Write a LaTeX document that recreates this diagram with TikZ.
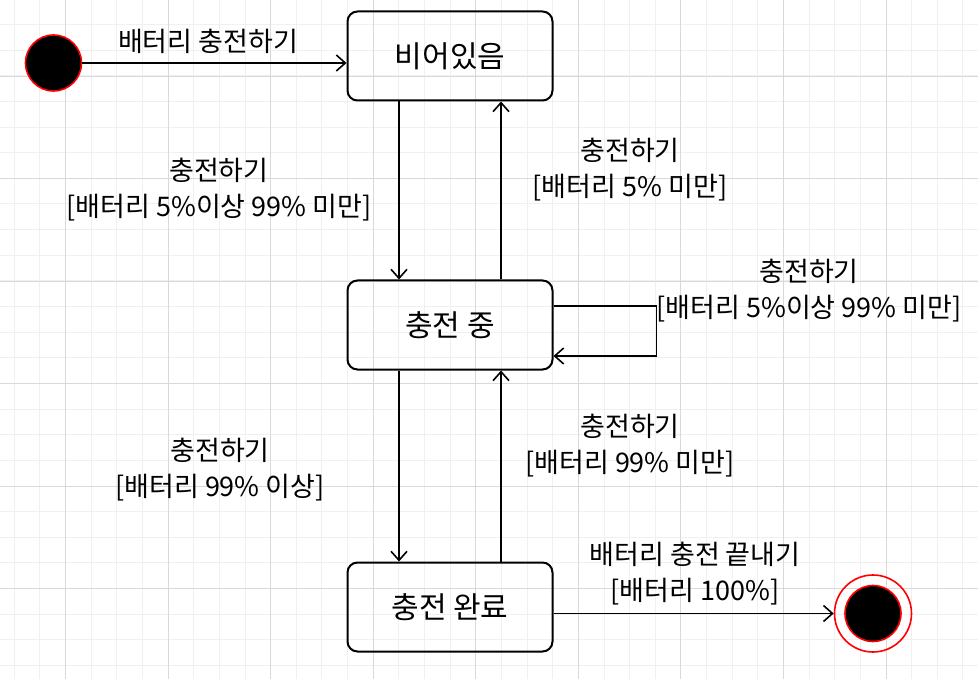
\documentclass[tikz,border=0pt]{standalone}
\usepackage{fontspec}
\newfontfamily\kofont{Noto Sans CJK KR}
\usetikzlibrary{positioning,arrows.meta}

\begin{document}
\begin{tikzpicture}[x=1pt, y=-1pt,
  state/.style={draw, line width=2pt, rounded corners=10pt, minimum width=205pt, minimum height=89pt, font=\kofont\fontsize{30}{34}\selectfont},
  lbl/.style={align=center, inner sep=0pt, font=\kofont\fontsize{27}{36}\selectfont},
  arr/.style={line width=1.6pt, -{Straight Barb[length=9pt, width=16pt, line width=1.6pt]}},
  startdot/.style={circle, draw=red, line width=1.6pt, fill=black, minimum size=56pt, inner sep=0pt},
  enddot/.style={circle, draw=red, line width=1.6pt, minimum size=77pt, inner sep=0pt},
  gridminor/.style={draw=black!6, line width=0.8pt},
  gridmajor/.style={draw=black!15, line width=0.8pt}]
  \useasboundingbox (0,0) rectangle (978,679);

  % grid paper
  \foreach \i in {0,...,37} \draw[gridminor] ({14.2+25.64*\i},0) -- ({14.2+25.64*\i},679);
  \foreach \j in {0,...,25} \draw[gridminor] (0,{24.4+25.64*\j}) -- (978,{24.4+25.64*\j});
  \foreach \i in {0,...,8} \draw[gridmajor] ({65.5+102.56*\i},0) -- ({65.5+102.56*\i},679);
  \foreach \j in {0,...,5} \draw[gridmajor] (0,{76+102.56*\j}) -- (978,{76+102.56*\j});

  % states
  \node[state] (empty) at (450,56) {비어있음};
  \node[state] (charging) [below=178pt of empty] {충전 중};
  \node[state] (full) [below=191pt of charging] {충전 완료};

  \node[startdot] (init) at (53.5,63) {};
  \node[enddot] (fin) at (873,613.5) {};
  \node[startdot] (finDot) at (fin.center) {};

  % labels
  \node[lbl] (lStart) at (208,41) {배터리 충전하기};
  \node[lbl] (lDown1) at (219,190) {충전하기\\{}[배터리 5\%이상 99\% 미만]};
  \node[lbl] (lUp1) at (630,170) {충전하기\\{}[배터리 5\% 미만]};
  \node[lbl] (lLoop) at (809,291) {충전하기\\{}[배터리 5\%이상 99\% 미만]};
  \node[lbl] (lDown2) at (220,470) {충전하기\\{}[배터리 99\% 이상]};
  \node[lbl] (lUp2) at (630,446) {충전하기\\{}[배터리 99\% 미만]};
  \node[lbl] (lEnd) at (695,574) {배터리 충전 끝내기\\{}[배터리 100\%]};

  % transitions
  \draw[arr] (init) -- (init -| empty.west);
  \draw[arr] ([xshift=-51pt]empty.south) -- ([xshift=-51pt]charging.north);
  \draw[arr] ([xshift=51pt]charging.north) -- ([xshift=51pt]empty.south);
  \draw[arr] ([yshift=19pt]charging.east) -- ++(103,0) |- ([yshift=-31pt]charging.east);
  \draw[arr] ([xshift=-51pt]charging.south) -- ([xshift=-51pt]full.north);
  \draw[arr] ([xshift=51pt]full.north) -- ([xshift=51pt]charging.south);
  \draw[arr] (full.east |- fin) -- (fin);
\end{tikzpicture}
\end{document}
